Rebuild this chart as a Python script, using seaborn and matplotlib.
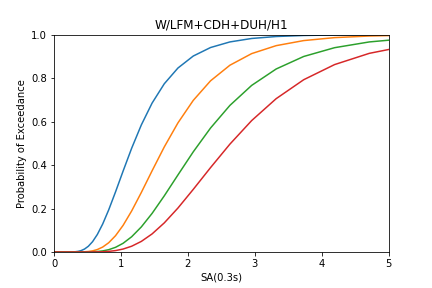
import matplotlib
matplotlib.use("Agg")
import matplotlib.pyplot as plt
import seaborn as sns
import pandas as pd

sa = [0.0, 0.201, 0.226, 0.254, 0.286, 0.321, 0.361, 0.406, 0.456, 0.513, 0.576,
      0.647, 0.727, 0.817, 0.919, 1.032, 1.160, 1.304, 1.465, 1.647, 1.851,
      2.080, 2.338, 2.627, 2.952, 3.318, 3.729, 4.190, 4.709, 5.292]

slight = [0.0, 0.0, 0.0001, 0.0002, 0.0005, 0.0013, 0.0030, 0.0066, 0.0136, 0.0264, 0.0475,
          0.0805, 0.1286, 0.1938, 0.2765, 0.3722, 0.4774, 0.5843, 0.6849, 0.7737, 0.8461,
          0.9013, 0.9404, 0.9661, 0.9820, 0.9910, 0.9958, 0.9982, 0.9992, 0.9997]
moderate = [0.0, 0.0, 0.0, 0.0, 0.0, 0.0, 0.0001, 0.0003, 0.0009, 0.0023, 0.0052,
            0.0113, 0.0227, 0.0426, 0.0750, 0.1226, 0.1889, 0.2737, 0.3735, 0.4832, 0.5938,
            0.6974, 0.7873, 0.8590, 0.9124, 0.9490, 0.9723, 0.9859, 0.9933, 0.9971]
extensive = [0.0, 0.0, 0.0, 0.0, 0.0, 0.0, 0.0, 0.0, 0.0001, 0.0003, 0.0009,
             0.0022, 0.0050, 0.0107, 0.0215, 0.0401, 0.0702, 0.1153, 0.1776, 0.2583, 0.3544,
             0.4608, 0.5702, 0.6742, 0.7662, 0.8417, 0.8992, 0.9396, 0.9661, 0.9822]
complete = [0.0, 0.0, 0.0, 0.0, 0.0, 0.0, 0.0, 0.0, 0.0, 0.0, 0.0002,
            0.0005, 0.0012, 0.0029, 0.0065, 0.0136, 0.0266, 0.0487, 0.0832, 0.1339, 0.2022,
            0.2881, 0.3882, 0.4961, 0.6044, 0.7052, 0.7923, 0.8619, 0.9136, 0.9493]

states = ["Slight", "Moderate", "Extensive", "Complete"]
series = [slight, moderate, extensive, complete]

rows = []
for name, vals in zip(states, series):
    for x, y in zip(sa, vals):
        rows.append({"SA": x, "P": y, "state": name})
df = pd.DataFrame(rows)

fig = plt.figure(figsize=(6, 4), dpi=72)
ax = fig.add_subplot(111)
fig.subplots_adjust(left=0.125, right=0.9, bottom=0.125, top=0.88)

palette = ["#1f77b4", "#ff7f0e", "#2ca02c", "#d62728"]
sns.lineplot(data=df, x="SA", y="P", hue="state", hue_order=states,
             palette=palette, estimator=None, legend=False, ax=ax, linewidth=1.5)

ax.set_xlim(0, 5)
ax.set_ylim(0, 1)
ax.set_title("W/LFM+CDH+DUH/H1")
ax.set_xlabel("SA(0.3s)")
ax.set_ylabel("Probability of Exceedance")

fig.savefig("out.png", dpi=72)
